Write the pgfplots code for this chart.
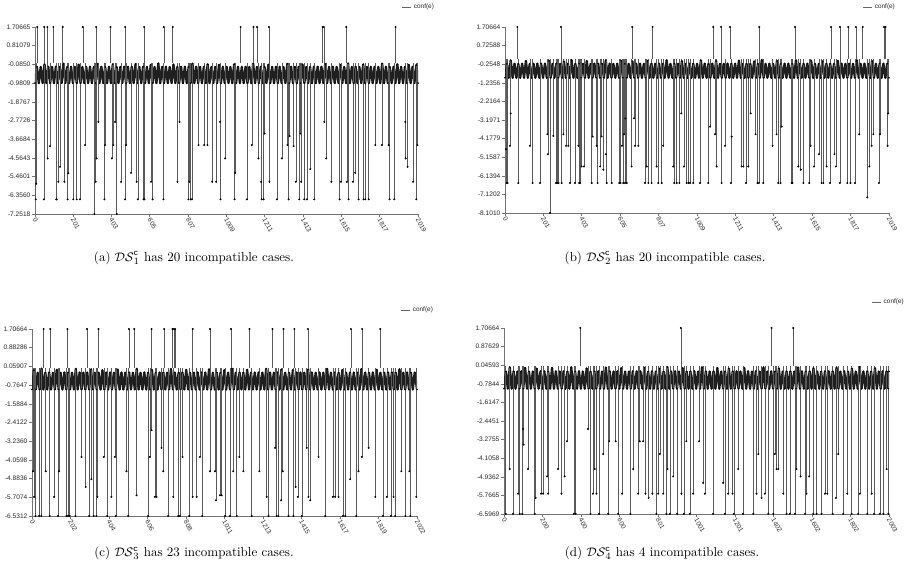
\documentclass[border=0pt]{standalone}
\usepackage{fontspec}
\usepackage{pgfplots}
\pgfplotsset{compat=1.18}
\newfontfamily\arialfont{Liberation Sans}

\pgfplotsset{
  confplot/.style={
    scale only axis, anchor=south west,
    axis lines*=left,
    axis line style={black!55, line width=0.4pt},
    tick style={black!55, line width=0.4pt},
    tick align=outside, major tick length=2pt,
    tick label style={font=\arialfont\fontsize{4.8}{5}\selectfont, text=black!85},
    xticklabel style={rotate=-60, anchor=west, inner sep=1pt, yshift=-1pt},
    yticklabel style={anchor=east, inner sep=1.2pt},
    legend style={draw=none, fill=none, anchor=center, inner sep=0pt,
      font=\arialfont\fontsize{4.7}{5}\selectfont, text=black!85},
    legend image code/.code={\draw[#1] (0pt,0pt) -- (6.5pt,0pt);},
  },
  band/.style={black!88, line width=1.7pt, line join=round, mark=*, mark size=0.45pt, mark options={black, line width=0.3pt}, forget plot},
  spikes/.style={ycomb, black!65, line width=0.4pt, mark=*, mark size=0.5pt, mark options={black}, forget plot},
}

\begin{document}
\begin{tikzpicture}
\useasboundingbox (0,0) rectangle (665.03pt,-427.05pt);

% (a)
\begin{axis}[confplot, at={(25.55pt,-156.22pt)}, width=279.6pt, height=136.5pt,
  xmin=0, xmax=2019, ymin=-7.25186, ymax=1.70665,
  xtick={0,201,403,605,807,1009,1211,1413,1615,1817,2019},
  xticklabels={0,201,403,605,807,1009,1211,1413,1615,1817,2019},
  ytick={1.70665,0.81080,-0.08505,-0.98090,-1.87675,-2.77260,-3.66846,-4.56431,-5.46016,-6.35601,-7.25186},
  yticklabels={1.70665,0.81079,-0.0850,-0.9809,-1.8767,-2.7726,-3.6684,-4.5643,-5.4601,-6.3560,-7.2518},
  legend style={at={(1.003,1.107)}}]
\addplot[band] coordinates {
(0,-0.98)(10,-0.20)(20,-0.98)(30,-0.21)(40,-0.98)(50,-0.08)(60,-0.98)(70,-0.20)(80,-0.98)(90,-0.21)
(100,-0.98)(110,-0.20)(120,-0.98)(130,-0.21)(140,-0.98)(150,-0.05)(160,-0.98)(170,-0.21)(180,-0.98)(190,-0.20)
(200,-0.98)(210,-0.21)(220,-0.98)(230,-0.10)(240,-0.98)(250,-0.21)(260,-0.98)(270,-0.20)(280,-0.98)(290,-0.20)
(300,-0.98)(310,-0.21)(320,-0.98)(330,-0.06)(340,-0.98)(350,-0.20)(360,-0.98)(370,-0.21)(380,-0.98)(390,-0.20)
(400,-0.98)(410,-0.09)(420,-0.98)(430,-0.21)(440,-0.98)(450,-0.21)(460,-0.98)(470,-0.20)(480,-0.98)(490,-0.20)
(500,-0.98)(510,-0.20)(520,-0.98)(530,-0.07)(540,-0.98)(550,-0.21)(560,-0.98)(570,-0.20)(580,-0.98)(590,-0.21)
(600,-0.98)(610,-0.11)(620,-0.98)(630,-0.21)(640,-0.98)(650,-0.04)(660,-0.98)(670,-0.21)(680,-0.98)(690,-0.20)
(700,-0.98)(710,-0.21)(720,-0.98)(730,-0.09)(740,-0.98)(750,-0.21)(760,-0.98)(770,-0.20)(780,-0.98)(790,-0.20)
(800,-0.98)(810,-0.21)(820,-0.98)(830,-0.05)(840,-0.98)(850,-0.20)(860,-0.98)(870,-0.21)(880,-0.98)(890,-0.20)
(900,-0.98)(910,-0.08)(920,-0.98)(930,-0.21)(940,-0.98)(950,-0.21)(960,-0.98)(970,-0.11)(980,-0.98)(990,-0.20)
(1000,-0.98)(1010,-0.20)(1020,-0.98)(1030,-0.21)(1040,-0.98)(1050,-0.08)(1060,-0.98)(1070,-0.20)(1080,-0.98)(1090,-0.21)
(1100,-0.98)(1110,-0.20)(1120,-0.98)(1130,-0.21)(1140,-0.98)(1150,-0.05)(1160,-0.98)(1170,-0.21)(1180,-0.98)(1190,-0.20)
(1200,-0.98)(1210,-0.21)(1220,-0.98)(1230,-0.10)(1240,-0.98)(1250,-0.21)(1260,-0.98)(1270,-0.20)(1280,-0.98)(1290,-0.20)
(1300,-0.98)(1310,-0.21)(1320,-0.98)(1330,-0.06)(1340,-0.98)(1350,-0.20)(1360,-0.98)(1370,-0.21)(1380,-0.98)(1390,-0.20)
(1400,-0.98)(1410,-0.09)(1420,-0.98)(1430,-0.21)(1440,-0.98)(1450,-0.21)(1460,-0.98)(1470,-0.20)(1480,-0.98)(1490,-0.20)
(1500,-0.98)(1510,-0.20)(1520,-0.98)(1530,-0.07)(1540,-0.98)(1550,-0.21)(1560,-0.98)(1570,-0.20)(1580,-0.98)(1590,-0.21)
(1600,-0.98)(1610,-0.11)(1620,-0.98)(1630,-0.21)(1640,-0.98)(1650,-0.04)(1660,-0.98)(1670,-0.21)(1680,-0.98)(1690,-0.20)
(1700,-0.98)(1710,-0.21)(1720,-0.98)(1730,-0.09)(1740,-0.98)(1750,-0.21)(1760,-0.98)(1770,-0.20)(1780,-0.98)(1790,-0.20)
(1800,-0.98)(1810,-0.21)(1820,-0.98)(1830,-0.05)(1840,-0.98)(1850,-0.20)(1860,-0.98)(1870,-0.21)(1880,-0.98)(1890,-0.20)
(1900,-0.98)(1910,-0.08)(1920,-0.98)(1930,-0.21)(1940,-0.98)(1950,-0.21)(1960,-0.98)(1970,-0.11)(1980,-0.98)(1990,-0.20)
(2000,-0.98)(2010,-0.12)(2019,-0.98)};
\addplot[spikes] coordinates {
(12,1.70665)(49,1.70665)(65,1.70665)(97,1.70665)(146,1.70665)(252,1.70665)(322,1.70665)(398,1.70665)(475,1.70665)(575,1.70665)
(679,1.70665)(726,1.70665)(1084,1.70665)(1152,1.70665)(1170,1.70665)(1233,1.70665)(1516,1.70665)(1523,1.70665)(1641,1.70665)(1901,1.70665)
(4,-6.55)(7,-5.8)(47,-6.55)(67,-4.59)(79,-4.0)(112,-6.55)(114,-6.55)(123,-5.71)(132,-4.99)(155,-5.71)(172,-6.55)(175,-5.3)
(202,-6.55)(220,-6.55)(237,-6.55)(264,-3.95)(313,-7.25)(320,-5.71)(325,-4.59)(334,-2.84)(366,-6.55)(369,-3.95)(405,-4.59)
(413,-3.95)(422,-2.84)(431,-7.25)(454,-5.71)(475,-6.55)(480,-3.95)(506,-5.28)(536,-5.71)(542,-6.55)(572,-6.55)(577,-6.55)
(612,-5.71)(620,-6.55)(677,-6.55)(751,-5.71)(762,-2.84)(809,-6.55)(814,-5.71)(821,-6.55)(827,-6.55)(862,-3.95)(892,-3.95)
(909,-3.95)(934,-5.71)(955,-5.71)(976,-2.84)(978,-6.55)(1002,-4.59)(1052,-6.55)(1055,-5.28)(1117,-6.55)(1143,-3.95)
(1178,-4.59)(1192,-5.71)(1195,-6.55)(1205,-6.55)(1210,-3.40)(1236,-5.71)(1275,-6.55)(1301,-4.59)(1331,-3.95)(1337,-6.55)
(1342,-3.52)(1363,-4.0)(1375,-5.71)(1393,-6.55)(1398,-3.40)(1403,-5.71)(1419,-6.55)(1433,-6.55)(1451,-5.1)(1472,-6.55)
(1525,-2.84)(1535,-4.59)(1562,-5.71)(1606,-6.55)(1613,-5.71)(1644,-5.71)(1653,-6.55)(1676,-5.71)(1688,-5.28)(1706,-6.55)
(1732,-6.55)(1741,-6.55)(1759,-6.55)(1794,-3.95)(1829,-3.95)(1864,-3.95)(1869,-6.55)(1894,-6.55)(1952,-2.84)(1954,-4.59)
(1964,-4.99)(1993,-5.71)(2010,-6.55)(2016,-3.95)};
\addlegendimage{black!60, line width=0.4pt}
\addlegendentry{conf(e)}
\end{axis}

% (b)
\begin{axis}[confplot, at={(368.65pt,-155.49pt)}, width=280.3pt, height=135.8pt,
  xmin=0, xmax=2019, ymin=-8.10101, ymax=1.70664,
  xtick={0,201,403,605,807,1009,1211,1413,1615,1817,2019},
  xticklabels={0,201,403,605,807,1009,1211,1413,1615,1817,2019},
  ytick={1.70664,0.72588,-0.25489,-1.23565,-2.21642,-3.19718,-4.17795,-5.15871,-6.13948,-7.12024,-8.10101},
  yticklabels={1.70664,0.72588,-0.2548,-1.2356,-2.2164,-3.1971,-4.1779,-5.1587,-6.1394,-7.1202,-8.1010},
  legend style={at={(0.977,1.107)}}]
\addplot[band] coordinates {
(0,-0.97)(10,-0.24)(20,-0.97)(30,-0.06)(40,-0.97)(50,-0.23)(60,-0.97)(70,-0.24)(80,-0.97)(90,-0.23)
(100,-0.97)(110,-0.09)(120,-0.97)(130,-0.24)(140,-0.97)(150,-0.24)(160,-0.97)(170,-0.23)(180,-0.97)(190,-0.23)
(200,-0.97)(210,-0.23)(220,-0.97)(230,-0.07)(240,-0.97)(250,-0.24)(260,-0.97)(270,-0.23)(280,-0.97)(290,-0.24)
(300,-0.97)(310,-0.11)(320,-0.97)(330,-0.24)(340,-0.97)(350,-0.04)(360,-0.97)(370,-0.24)(380,-0.97)(390,-0.23)
(400,-0.97)(410,-0.24)(420,-0.97)(430,-0.09)(440,-0.97)(450,-0.24)(460,-0.97)(470,-0.23)(480,-0.97)(490,-0.23)
(500,-0.97)(510,-0.24)(520,-0.97)(530,-0.05)(540,-0.97)(550,-0.23)(560,-0.97)(570,-0.24)(580,-0.97)(590,-0.23)
(600,-0.97)(610,-0.08)(620,-0.97)(630,-0.24)(640,-0.97)(650,-0.24)(660,-0.97)(670,-0.11)(680,-0.97)(690,-0.23)
(700,-0.97)(710,-0.23)(720,-0.97)(730,-0.24)(740,-0.97)(750,-0.08)(760,-0.97)(770,-0.23)(780,-0.97)(790,-0.24)
(800,-0.97)(810,-0.23)(820,-0.97)(830,-0.24)(840,-0.97)(850,-0.05)(860,-0.97)(870,-0.24)(880,-0.97)(890,-0.23)
(900,-0.97)(910,-0.24)(920,-0.97)(930,-0.10)(940,-0.97)(950,-0.24)(960,-0.97)(970,-0.23)(980,-0.97)(990,-0.23)
(1000,-0.97)(1010,-0.24)(1020,-0.97)(1030,-0.06)(1040,-0.97)(1050,-0.23)(1060,-0.97)(1070,-0.24)(1080,-0.97)(1090,-0.23)
(1100,-0.97)(1110,-0.09)(1120,-0.97)(1130,-0.24)(1140,-0.97)(1150,-0.24)(1160,-0.97)(1170,-0.23)(1180,-0.97)(1190,-0.23)
(1200,-0.97)(1210,-0.23)(1220,-0.97)(1230,-0.07)(1240,-0.97)(1250,-0.24)(1260,-0.97)(1270,-0.23)(1280,-0.97)(1290,-0.24)
(1300,-0.97)(1310,-0.11)(1320,-0.97)(1330,-0.24)(1340,-0.97)(1350,-0.04)(1360,-0.97)(1370,-0.24)(1380,-0.97)(1390,-0.23)
(1400,-0.97)(1410,-0.24)(1420,-0.97)(1430,-0.09)(1440,-0.97)(1450,-0.24)(1460,-0.97)(1470,-0.23)(1480,-0.97)(1490,-0.23)
(1500,-0.97)(1510,-0.24)(1520,-0.97)(1530,-0.05)(1540,-0.97)(1550,-0.23)(1560,-0.97)(1570,-0.24)(1580,-0.97)(1590,-0.23)
(1600,-0.97)(1610,-0.08)(1620,-0.97)(1630,-0.24)(1640,-0.97)(1650,-0.24)(1660,-0.97)(1670,-0.11)(1680,-0.97)(1690,-0.23)
(1700,-0.97)(1710,-0.23)(1720,-0.97)(1730,-0.24)(1740,-0.97)(1750,-0.08)(1760,-0.97)(1770,-0.23)(1780,-0.97)(1790,-0.24)
(1800,-0.97)(1810,-0.23)(1820,-0.97)(1830,-0.24)(1840,-0.97)(1850,-0.05)(1860,-0.97)(1870,-0.24)(1880,-0.97)(1890,-0.23)
(1900,-0.97)(1910,-0.24)(1920,-0.97)(1930,-0.10)(1940,-0.97)(1950,-0.24)(1960,-0.97)(1970,-0.23)(1980,-0.97)(1990,-0.23)
(2000,-0.97)(2010,-0.23)(2019,-0.97)};
\addplot[spikes] coordinates {
(65,1.70664)(294,1.70664)(669,1.70664)(776,1.70664)(1095,1.70664)(1136,1.70664)(1183,1.70664)(1337,1.70664)
(1525,1.70664)(1714,1.70664)(1761,1.70664)(1805,1.70664)(1845,1.70664)(1881,1.70664)(1993,1.70664)(2001,1.70664)
(5,-4.74)(9,-6.52)(14,-6.52)(26,-4.56)(30,-2.85)(70,-6.52)(131,-4.56)(145,-6.52)(184,-6.52)(223,-3.95)(226,-5.0)
(237,-8.10)(254,-4.04)(268,-6.52)(275,-6.52)(282,-6.52)(298,-6.52)(307,-3.95)(321,-4.56)(333,-4.56)(342,-6.52)
(368,-6.52)(386,-4.56)(390,-6.52)(395,-6.52)(403,-5.65)(415,-5.65)(456,-6.52)(461,-4.07)(482,-4.56)(487,-6.52)
(500,-5.65)(508,-4.07)(517,-5.82)(531,-5.0)(535,-6.52)(561,-6.52)(601,-6.52)(608,-6.52)(615,-4.56)(622,-6.52)
(626,-3.95)(631,-6.52)(633,-3.11)(640,-6.52)(666,-5.65)(678,-3.11)(684,-4.56)(701,-4.56)(736,-6.52)(745,-5.65)
(754,-6.52)(771,-6.52)(797,-5.65)(806,-6.52)(824,-6.52)(832,-4.56)(885,-5.65)(890,-6.52)(903,-6.52)(917,-6.52)
(927,-2.85)(941,-5.65)(955,-6.52)(964,-6.52)(973,-6.52)(990,-6.52)(1025,-6.52)(1069,-6.52)(1078,-3.55)(1104,-3.95)
(1113,-5.65)(1139,-6.52)(1157,-4.56)(1188,-6.52)(1192,-4.07)(1244,-5.65)(1253,-5.65)(1267,-6.52)(1279,-5.65)
(1292,-2.85)(1318,-3.95)(1328,-6.52)(1335,-6.52)(1358,-6.52)(1407,-4.56)(1428,-3.95)(1437,-6.52)(1449,-6.52)
(1455,-3.55)(1507,-6.52)(1512,-6.52)(1542,-5.65)(1555,-5.82)(1569,-6.52)(1600,-6.52)(1607,-4.56)(1625,-5.65)
(1651,-5.0)(1665,-6.52)(1674,-6.52)(1691,-5.65)(1709,-6.52)(1732,-5.0)(1740,-5.65)(1761,-6.52)(1800,-6.52)
(1817,-6.52)(1840,-6.52)(1863,-3.95)(1905,-7.28)(1916,-5.65)(1928,-4.56)(1937,-3.95)(1966,-6.52)(1972,-3.95)
(2012,-4.56)(2015,-2.85)};
\addlegendimage{black!60, line width=0.4pt}
\addlegendentry{conf(e)}
\end{axis}

% (c)
\begin{axis}[confplot, at={(23.36pt,-376.68pt)}, width=281.05pt, height=136.5pt,
  xmin=0, xmax=2022, ymin=-6.5312, ymax=1.70664,
  xtick={0,202,404,606,808,1011,1213,1415,1617,1819,2022},
  xticklabels={0,202,404,606,808,1011,1213,1415,1617,1819,2022},
  ytick={1.70664,0.88286,0.05907,-0.76471,-1.58850,-2.41228,-3.23606,-4.05985,-4.88363,-5.70742,-6.5312},
  yticklabels={1.70664,0.88286,0.05907,-0.7647,-1.5884,-2.4122,-3.2360,-4.0598,-4.8836,-5.7074,-6.5312},
  legend style={at={(1.003,1.10)}}]
\addplot[band] coordinates {
(0,-0.955)(10,-0.11)(20,-0.955)(30,-0.22)(40,-0.955)(50,-0.04)(60,-0.955)(70,-0.22)(80,-0.955)(90,-0.21)
(100,-0.955)(110,-0.22)(120,-0.955)(130,-0.09)(140,-0.955)(150,-0.22)(160,-0.955)(170,-0.21)(180,-0.955)(190,-0.21)
(200,-0.955)(210,-0.22)(220,-0.955)(230,-0.05)(240,-0.955)(250,-0.21)(260,-0.955)(270,-0.22)(280,-0.955)(290,-0.21)
(300,-0.955)(310,-0.08)(320,-0.955)(330,-0.22)(340,-0.955)(350,-0.22)(360,-0.955)(370,-0.11)(380,-0.955)(390,-0.21)
(400,-0.955)(410,-0.21)(420,-0.955)(430,-0.22)(440,-0.955)(450,-0.08)(460,-0.955)(470,-0.21)(480,-0.955)(490,-0.22)
(500,-0.955)(510,-0.21)(520,-0.955)(530,-0.22)(540,-0.955)(550,-0.05)(560,-0.955)(570,-0.22)(580,-0.955)(590,-0.21)
(600,-0.955)(610,-0.22)(620,-0.955)(630,-0.10)(640,-0.955)(650,-0.22)(660,-0.955)(670,-0.21)(680,-0.955)(690,-0.21)
(700,-0.955)(710,-0.22)(720,-0.955)(730,-0.06)(740,-0.955)(750,-0.21)(760,-0.955)(770,-0.22)(780,-0.955)(790,-0.21)
(800,-0.955)(810,-0.09)(820,-0.955)(830,-0.22)(840,-0.955)(850,-0.22)(860,-0.955)(870,-0.21)(880,-0.955)(890,-0.21)
(900,-0.955)(910,-0.21)(920,-0.955)(930,-0.07)(940,-0.955)(950,-0.22)(960,-0.955)(970,-0.21)(980,-0.955)(990,-0.22)
(1000,-0.955)(1010,-0.11)(1020,-0.955)(1030,-0.22)(1040,-0.955)(1050,-0.04)(1060,-0.955)(1070,-0.22)(1080,-0.955)(1090,-0.21)
(1100,-0.955)(1110,-0.22)(1120,-0.955)(1130,-0.09)(1140,-0.955)(1150,-0.22)(1160,-0.955)(1170,-0.21)(1180,-0.955)(1190,-0.21)
(1200,-0.955)(1210,-0.22)(1220,-0.955)(1230,-0.05)(1240,-0.955)(1250,-0.21)(1260,-0.955)(1270,-0.22)(1280,-0.955)(1290,-0.21)
(1300,-0.955)(1310,-0.08)(1320,-0.955)(1330,-0.22)(1340,-0.955)(1350,-0.22)(1360,-0.955)(1370,-0.11)(1380,-0.955)(1390,-0.21)
(1400,-0.955)(1410,-0.21)(1420,-0.955)(1430,-0.22)(1440,-0.955)(1450,-0.08)(1460,-0.955)(1470,-0.21)(1480,-0.955)(1490,-0.22)
(1500,-0.955)(1510,-0.21)(1520,-0.955)(1530,-0.22)(1540,-0.955)(1550,-0.05)(1560,-0.955)(1570,-0.22)(1580,-0.955)(1590,-0.21)
(1600,-0.955)(1610,-0.22)(1620,-0.955)(1630,-0.10)(1640,-0.955)(1650,-0.22)(1660,-0.955)(1670,-0.21)(1680,-0.955)(1690,-0.21)
(1700,-0.955)(1710,-0.22)(1720,-0.955)(1730,-0.06)(1740,-0.955)(1750,-0.21)(1760,-0.955)(1770,-0.22)(1780,-0.955)(1790,-0.21)
(1800,-0.955)(1810,-0.09)(1820,-0.955)(1830,-0.22)(1840,-0.955)(1850,-0.22)(1860,-0.955)(1870,-0.21)(1880,-0.955)(1890,-0.21)
(1900,-0.955)(1910,-0.21)(1920,-0.955)(1930,-0.07)(1940,-0.955)(1950,-0.22)(1960,-0.955)(1970,-0.21)(1980,-0.955)(1990,-0.22)
(2000,-0.955)(2010,-0.21)(2022,-0.955)};
\addplot[spikes] coordinates {
(61,1.70664)(96,1.70664)(186,1.70664)(289,1.70664)(349,1.70664)(509,1.70664)(537,1.70664)(628,1.70664)
(694,1.70664)(738,1.70664)(745,1.70664)(752,1.70664)(844,1.70664)(935,1.70664)(1045,1.70664)(1142,1.70664)
(1263,1.70664)(1321,1.70664)(1378,1.70664)(1449,1.70664)(1675,1.70664)(1734,1.70664)(1829,1.70664)
(5,-4.56)(11,-5.69)(19,-6.53)(37,-6.53)(49,-6.53)(72,-4.56)(93,-6.53)(116,-5.69)(137,-6.53)(142,-4.56)
(181,-6.53)(189,-6.53)(198,-6.53)(228,-6.53)(260,-3.93)(282,-5.25)(300,-6.53)(312,-4.91)(324,-6.53)(338,-6.53)
(344,-5.69)(377,-3.93)(395,-6.53)(417,-5.69)(435,-3.93)(440,-6.53)(496,-4.56)(505,-6.53)(549,-5.62)(610,-6.53)
(619,-3.93)(628,-2.75)(645,-5.69)(654,-5.69)(680,-3.53)(689,-4.56)(715,-6.53)(742,-5.69)(768,-6.53)(777,-6.53)
(791,-3.93)(826,-6.53)(844,-5.69)(865,-5.69)(882,-3.93)(894,-6.53)(935,-4.56)(961,-4.56)(966,-5.84)(987,-5.62)
(996,-5.62)(1014,-6.53)(1040,-6.53)(1057,-4.56)(1075,-6.53)(1089,-3.93)(1110,-4.56)(1154,-6.53)(1194,-4.56)
(1233,-5.69)(1242,-6.53)(1277,-3.53)(1285,-6.53)(1294,-6.53)(1308,-5.84)(1317,-4.56)(1347,-6.53)(1373,-6.53)
(1385,-5.25)(1396,-5.69)(1417,-6.53)(1443,-3.53)(1452,-5.69)(1461,-5.84)(1505,-3.93)(1540,-6.53)(1580,-5.69)
(1592,-5.69)(1610,-5.69)(1633,-6.53)(1645,-6.53)(1671,-4.91)(1703,-6.53)(1715,-4.56)(1732,-3.93)(1768,-3.53)
(1803,-5.69)(1843,-6.53)(1864,-5.69)(1885,-6.53)(1899,-5.69)(1907,-6.53)(1940,-4.56)(1961,-6.53)(1982,-4.56)
(1987,-6.53)(2018,-5.69)};
\addlegendimage{black!60, line width=0.4pt}
\addlegendentry{conf(e)}
\end{axis}

% (d)
\begin{axis}[confplot, at={(367.92pt,-375.22pt)}, width=281.05pt, height=135.8pt,
  xmin=0, xmax=2003, ymin=-6.5969, ymax=1.70664,
  xtick={0,200,400,600,801,1001,1201,1402,1602,1802,2003},
  xticklabels={0,200,400,600,801,1001,1201,1402,1602,1802,2003},
  ytick={1.70664,0.87629,0.04593,-0.78442,-1.61478,-2.44513,-3.27549,-4.10584,-4.93620,-5.76655,-6.5969},
  yticklabels={1.70664,0.87629,0.04593,-0.7844,-1.6147,-2.4451,-3.2755,-4.1058,-4.9362,-5.7665,-6.5969},
  legend style={at={(1.0,1.14)}}]
\addplot[band] coordinates {
(0,-1.0)(10,-0.24)(20,-1.0)(30,-0.05)(40,-1.0)(50,-0.23)(60,-1.0)(70,-0.24)(80,-1.0)(90,-0.23)
(100,-1.0)(110,-0.08)(120,-1.0)(130,-0.24)(140,-1.0)(150,-0.24)(160,-1.0)(170,-0.11)(180,-1.0)(190,-0.23)
(200,-1.0)(210,-0.23)(220,-1.0)(230,-0.24)(240,-1.0)(250,-0.08)(260,-1.0)(270,-0.23)(280,-1.0)(290,-0.24)
(300,-1.0)(310,-0.23)(320,-1.0)(330,-0.24)(340,-1.0)(350,-0.05)(360,-1.0)(370,-0.24)(380,-1.0)(390,-0.23)
(400,-1.0)(410,-0.24)(420,-1.0)(430,-0.10)(440,-1.0)(450,-0.24)(460,-1.0)(470,-0.23)(480,-1.0)(490,-0.23)
(500,-1.0)(510,-0.24)(520,-1.0)(530,-0.06)(540,-1.0)(550,-0.23)(560,-1.0)(570,-0.24)(580,-1.0)(590,-0.23)
(600,-1.0)(610,-0.09)(620,-1.0)(630,-0.24)(640,-1.0)(650,-0.24)(660,-1.0)(670,-0.23)(680,-1.0)(690,-0.23)
(700,-1.0)(710,-0.23)(720,-1.0)(730,-0.07)(740,-1.0)(750,-0.24)(760,-1.0)(770,-0.23)(780,-1.0)(790,-0.24)
(800,-1.0)(810,-0.11)(820,-1.0)(830,-0.24)(840,-1.0)(850,-0.04)(860,-1.0)(870,-0.24)(880,-1.0)(890,-0.23)
(900,-1.0)(910,-0.24)(920,-1.0)(930,-0.09)(940,-1.0)(950,-0.24)(960,-1.0)(970,-0.23)(980,-1.0)(990,-0.23)
(1000,-1.0)(1010,-0.24)(1020,-1.0)(1030,-0.05)(1040,-1.0)(1050,-0.23)(1060,-1.0)(1070,-0.24)(1080,-1.0)(1090,-0.23)
(1100,-1.0)(1110,-0.08)(1120,-1.0)(1130,-0.24)(1140,-1.0)(1150,-0.24)(1160,-1.0)(1170,-0.11)(1180,-1.0)(1190,-0.23)
(1200,-1.0)(1210,-0.23)(1220,-1.0)(1230,-0.24)(1240,-1.0)(1250,-0.08)(1260,-1.0)(1270,-0.23)(1280,-1.0)(1290,-0.24)
(1300,-1.0)(1310,-0.23)(1320,-1.0)(1330,-0.24)(1340,-1.0)(1350,-0.05)(1360,-1.0)(1370,-0.24)(1380,-1.0)(1390,-0.23)
(1400,-1.0)(1410,-0.24)(1420,-1.0)(1430,-0.10)(1440,-1.0)(1450,-0.24)(1460,-1.0)(1470,-0.23)(1480,-1.0)(1490,-0.23)
(1500,-1.0)(1510,-0.24)(1520,-1.0)(1530,-0.06)(1540,-1.0)(1550,-0.23)(1560,-1.0)(1570,-0.24)(1580,-1.0)(1590,-0.23)
(1600,-1.0)(1610,-0.09)(1620,-1.0)(1630,-0.24)(1640,-1.0)(1650,-0.24)(1660,-1.0)(1670,-0.23)(1680,-1.0)(1690,-0.23)
(1700,-1.0)(1710,-0.23)(1720,-1.0)(1730,-0.07)(1740,-1.0)(1750,-0.24)(1760,-1.0)(1770,-0.23)(1780,-1.0)(1790,-0.24)
(1800,-1.0)(1810,-0.11)(1820,-1.0)(1830,-0.24)(1840,-1.0)(1850,-0.04)(1860,-1.0)(1870,-0.24)(1880,-1.0)(1890,-0.23)
(1900,-1.0)(1910,-0.24)(1920,-1.0)(1930,-0.09)(1940,-1.0)(1950,-0.24)(1960,-1.0)(1970,-0.23)(1980,-1.0)(1990,-0.23)
(2000,-1.0)(2003,-0.23)};
\addplot[spikes] coordinates {
(397,1.70664)(920,1.70664)(1392,1.70664)(1505,1.70664)
(9,-6.59)(30,-4.59)(47,-6.59)(73,-5.69)(82,-6.59)(95,-6.59)(99,-2.80)(102,-3.50)(125,-4.59)(160,-6.59)
(165,-5.88)(193,-5.69)(203,-5.69)(224,-4.92)(229,-5.69)(281,-4.59)(299,-5.69)(316,-4.92)(328,-3.35)(363,-6.59)
(373,-6.59)(437,-2.80)(450,-6.59)(463,-5.69)(472,-4.59)(481,-5.69)(495,-6.59)(516,-3.92)(542,-6.59)(547,-3.35)
(581,-3.35)(594,-6.59)(614,-5.69)(658,-6.59)(672,-4.59)(698,-5.69)(706,-3.35)(724,-3.35)(736,-5.69)(753,-5.88)
(772,-5.69)(793,-6.59)(802,-5.69)(811,-3.92)(828,-5.69)(845,-6.59)(851,-4.59)(863,-6.59)(880,-4.92)(901,-6.59)
(923,-5.69)(936,-6.59)(949,-3.35)(967,-6.59)(984,-5.69)(1015,-3.35)(1036,-5.21)(1045,-5.69)(1088,-6.59)(1140,-5.21)
(1149,-6.59)(1166,-5.69)(1189,-5.69)(1196,-6.59)(1218,-4.59)(1244,-6.59)(1297,-6.59)(1314,-5.69)(1323,-3.92)
(1340,-5.88)(1357,-5.69)(1375,-6.59)(1401,-6.59)(1409,-3.92)(1418,-4.59)(1427,-4.59)(1453,-5.69)(1470,-6.59)
(1487,-6.59)(1514,-6.59)(1522,-4.59)(1543,-4.92)(1566,-6.59)(1574,-5.69)(1588,-4.92)(1609,-6.59)(1626,-6.59)
(1652,-6.59)(1670,-5.69)(1682,-5.69)(1710,-6.59)(1727,-5.88)(1739,-3.92)(1765,-6.59)(1786,-5.69)(1809,-6.59)
(1843,-6.59)(1852,-5.69)(1890,-6.59)(1913,-5.69)(1925,-6.59)(1956,-6.59)(1974,-6.59)(1991,-4.59)(2000,-6.59)};
\addlegendimage{black!60, line width=0.4pt}
\addlegendentry{conf(e)}
\end{axis}

\begin{scope}[every node/.style={font=\fontsize{9.5}{11}\selectfont}]
\node at (141.6pt,-188.3pt) {(a) $\mathcal{DS}^{\mathsf{c}}_{1}$ has 20 incompatible cases.};
\node at (485.5pt,-188.3pt) {(b) $\mathcal{DS}^{\mathsf{c}}_{2}$ has 20 incompatible cases.};
\node at (141.6pt,-403.7pt) {(c) $\mathcal{DS}^{\mathsf{c}}_{3}$ has 23 incompatible cases.};
\node at (483.3pt,-403.7pt) {(d) $\mathcal{DS}^{\mathsf{c}}_{4}$ has 4 incompatible cases.};
\end{scope}
\end{tikzpicture}
\end{document}
